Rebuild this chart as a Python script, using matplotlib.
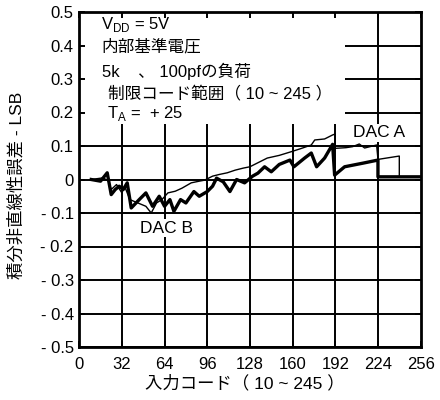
import matplotlib
matplotlib.use("Agg")
import matplotlib.pyplot as plt
from matplotlib.patches import Rectangle

plt.rcParams['font.family'] = ['Liberation Sans', 'Noto Sans CJK JP']
plt.rcParams['mathtext.fontset'] = 'custom'
plt.rcParams['mathtext.rm'] = 'Liberation Sans'

# DAC A (thin trace) - code vs INL in LSB
dac_a_code = [9, 18, 22, 24, 28, 32, 34, 38, 44, 50, 54, 58, 62, 66.5, 72, 77, 84, 90,
              94, 100, 105, 111, 117, 123, 128, 134, 141, 150, 159, 166, 174, 176.6,
              184, 190, 192, 192, 200, 205, 210, 214, 223, 224, 240, 240, 256]
dac_a_inl = [0.0, 0.005, -0.005, -0.03, -0.015, -0.04, -0.02, -0.06, -0.07, -0.08, -0.1,
             -0.07, -0.06, -0.04, -0.035, -0.026, -0.01, -0.005, -0.002, 0.01, 0.015, 0.02,
             0.028, 0.034, 0.038, 0.05, 0.064, 0.072, 0.083, 0.092, 0.103, 0.118, 0.121,
             0.133, 0.136, 0.093, 0.095, 0.098, 0.106, 0.094, 0.103, 0.06, 0.07, 0.008, 0.008]

# DAC B (thick trace)
dac_b_code = [9, 16, 21, 24, 27, 30, 33, 36, 39, 45, 50, 55, 60, 64, 68, 71, 76, 80, 86,
              90, 96, 100, 103, 108, 113, 118, 124, 130, 134, 139, 144, 150, 158, 161, 169,
              174, 178, 184, 190, 191.5, 199, 213, 224, 224, 256]
dac_b_inl = [0.0, -0.005, 0.02, -0.045, -0.03, -0.02, -0.03, -0.01, -0.085, -0.06, -0.04,
             -0.08, -0.05, -0.08, -0.06, -0.095, -0.06, -0.07, -0.036, -0.05, -0.036, -0.02,
             0.004, -0.007, -0.036, 0.0, -0.01, 0.01, 0.019, 0.038, 0.023, 0.045, 0.058,
             0.038, 0.064, 0.079, 0.038, 0.064, 0.105, 0.013, 0.038, 0.049, 0.058, 0.008, 0.008]

x_ticks = [0, 32, 64, 96, 128, 160, 192, 224, 256]
y_ticks = [0.5, 0.4, 0.3, 0.2, 0.1, 0, -0.1, -0.2, -0.3, -0.4, -0.5]
y_tick_labels = ['0.5', '0.4', '0.3', '0.2', '0.1', '0',
                 '- 0.1', '- 0.2', '- 0.3', '- 0.4', '- 0.5']

notes = ['V$_{\\mathrm{DD}}$ = 5V', '内部基準電圧', '5k    、 100pfの負荷',
         '制限コード範囲（ 10 ~ 245 ）', 'T$_{\\mathrm{A}}$ =  + 25']

fig = plt.figure(figsize=(4.4, 4.0), dpi=100)
ax = fig.add_axes([0.180, 0.1325, 0.776, 0.8375])
ax.set_xlim(0, 256)
ax.set_ylim(-0.5, 0.5)

# grid drawn by hand so the note box can sit over it
for y in y_ticks:
    ax.axhline(y, color='black', lw=1.4, zorder=1)
for x in x_ticks[1:-1]:
    ax.axvline(x, color='black', lw=1.4, zorder=1)
ax.add_patch(Rectangle((0, 0.165), 199.5, 0.335, facecolor='white',
                       edgecolor='none', zorder=1.2))

ax.plot(dac_a_code, dac_a_inl, color='black', lw=1.0, zorder=3)
ax.plot(dac_b_code, dac_b_inl, color='black', lw=2.4, zorder=3)

ax.text(224.5, 0.139, 'DAC A', fontsize=12.5, ha='center', va='center', zorder=4,
        bbox=dict(facecolor='white', edgecolor='none', pad=1))
ax.text(65.5, -0.145, 'DAC B', fontsize=12.5, ha='center', va='center', zorder=4,
        bbox=dict(facecolor='white', edgecolor='none', pad=1))

note_x = [16.3, 16.3, 16.8, 21.5, 20.5]
note_y = [0.463, 0.396, 0.322, 0.258, 0.197]
for t, nx, ny in zip(notes, note_x, note_y):
    ax.text(nx, ny, t, fontsize=12, ha='left', va='center', zorder=4)

ax.set_xticks(x_ticks)
ax.set_yticks(y_ticks)
ax.set_yticklabels(y_tick_labels)
ax.tick_params(direction='in', length=4, width=1.4, top=True, right=True,
               labelsize=12, pad=4)
ax.tick_params(axis='x', pad=7)
ax.xaxis.set_zorder(2.6)
ax.yaxis.set_zorder(2.6)
for s in ax.spines.values():
    s.set_linewidth(2)
    s.set_zorder(5)

ax.set_xlabel('入力コード（ 10 ~ 245 ）', fontsize=12.5)
ax.set_ylabel('積分非直線性誤差 - LSB', fontsize=12.5)
ax.xaxis.set_label_coords(0.485, -0.082)
ax.yaxis.set_label_coords(-0.16, 0.482)

fig.savefig('out.png', dpi=100)
